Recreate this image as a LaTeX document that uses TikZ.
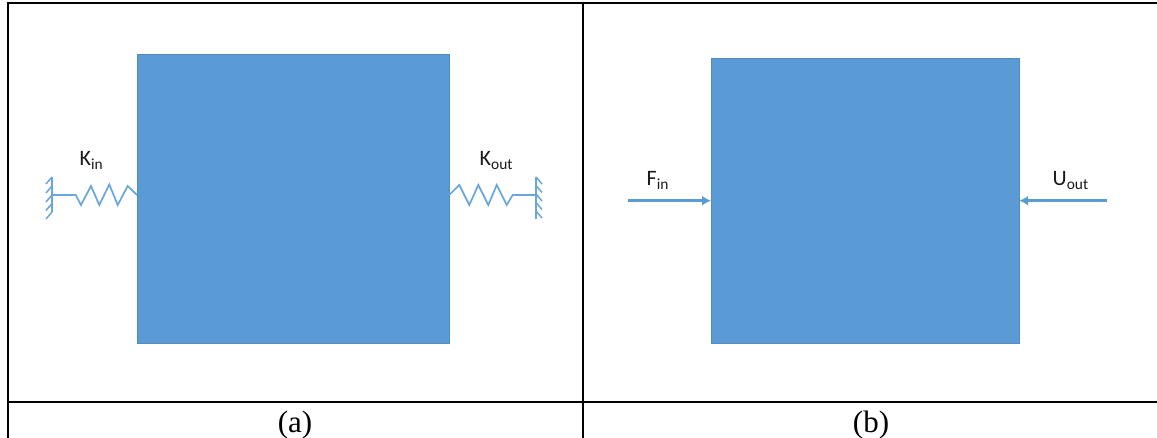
\documentclass[tikz,border=0pt]{standalone}
\usepackage{fontspec}
\setmainfont{Liberation Serif}
\newfontfamily\calib{Carlito}
\usetikzlibrary{arrows.meta}
\definecolor{bluefill}{HTML}{5B9BD5}
\definecolor{springcol}{HTML}{6AA5DB}
\tikzset{
  gridline/.style={line width=2.2pt,black},
  body/.style={fill=bluefill,draw=bluefill!90!black,line width=0.7pt,inner sep=0pt,anchor=north west},
  springline/.style={springcol,line width=1.7pt,line join=miter},
  forcearrow/.style={bluefill,line width=2.4pt,-{Latex[length=9pt,width=10pt]},shorten >=0pt},
  lab/.style={font=\calib\fontsize{22}{22}\selectfont,text=black!90,inner sep=0pt,anchor=base west},
  capt/.style={font=\fontsize{31}{31}\selectfont,text=black,inner sep=0pt,anchor=base},
}
\begin{document}
\begin{tikzpicture}[x=1pt,y=-1pt]
\useasboundingbox (0,0) rectangle (1157,438);
\fill[white] (0,0) rectangle (1157,438);
% table rules
\coordinate (tl) at (6.5,2.7); \coordinate (tr) at (1157,2.7);
\coordinate (ml) at (7.6,402); \coordinate (mr) at (1157,402);
\coordinate (l1) at (7.6,1.6); \coordinate (l2) at (7.6,438);
\coordinate (c1) at (582.8,1.6); \coordinate (c2) at (582.8,438);
\draw[gridline] (tl) -- (tr);
\draw[gridline] (ml) -- (mr);
\draw[gridline] (l1) -- (l2);
\draw[gridline] (c1) -- (c2);
% bodies
\node[body,minimum width=311.5pt,minimum height=289.5pt] (A) at (137,54) {};
\node[body,minimum width=307.5pt,minimum height=285.5pt] (B) at (711,58) {};
% left wall and spring
\coordinate (wlt) at (52,177); \coordinate (wlb) at (52,212); \coordinate (wl) at (52,195);
\coordinate (sl) at (A.west |- wl);
\draw[springline] (wlt) -- (wlb);
\foreach \y in {177,186,195,203.5,212} \draw[springline,line width=1.5pt] (52,\y) -- (46,\y+7);
\draw[springline] (wl) -- (75.7,195) -- (81,205) -- (91,186) -- (99.3,205) -- (109.3,184.5) -- (117.7,205) -- (127.7,186) -- (sl);
% right wall and spring
\coordinate (wrt) at (536,177); \coordinate (wrb) at (536,219); \coordinate (wr) at (536,195);
\coordinate (sr) at (A.east |- wr);
\draw[springline] (wrt) -- (wrb);
\foreach \y in {177,185.5,194,202.5,211} \draw[springline,line width=1.5pt] (536,\y) -- (542,\y+7);
\draw[springline] (sr) -- (459.3,185) -- (469.3,205) -- (478.3,185) -- (488.3,205) -- (496.7,185) -- (506.7,205) -- (512.7,195) -- (wr);
% forces
\coordinate (fs) at (628,200.7); \coordinate (us) at (1107,200.7);
\draw[forcearrow] (fs) -- (B.west |- fs);
\draw[forcearrow] (us) -- (B.east |- us);
% labels
\node[lab] (kin) at (79.5,166) {K\textsubscript{in}};
\node[lab] (kout) at (479.5,166) {K\textsubscript{out}};
\node[lab] (fin) at (646.5,186) {F\textsubscript{in}};
\node[lab] (uout) at (1052.5,186) {U\textsubscript{out}};
\node[capt] (capa) at (295,432) {(a)};
\node[capt] (capb) at (871,432) {(b)};
\end{tikzpicture}
\end{document}
